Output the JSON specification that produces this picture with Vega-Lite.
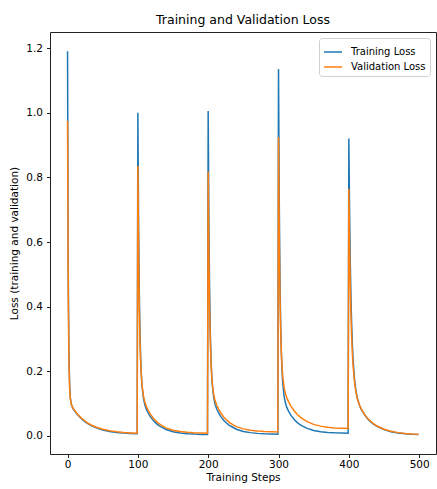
{
  "$schema": "https://vega.github.io/schema/vega-lite/v6.json",
  "autosize": {"type": "none"},
  "padding": {"left": 50, "top": 32, "right": 1, "bottom": 35},
  "width": 386,
  "height": 422,
  "background": "white",
  "title": {"text": "Training and Validation Loss", "font": "DejaVu Sans", "fontSize": 12.5, "fontWeight": "normal", "color": "#000", "offset": 6},
  "config": {
    "view": {"stroke": "#222", "strokeWidth": 1},
    "axis": {"labelFont": "DejaVu Sans", "titleFont": "DejaVu Sans", "labelFontSize": 10.5, "titleFontSize": 10.5, "titleFontWeight": "normal", "labelColor": "#000", "titleColor": "#000", "tickColor": "#222", "tickSize": 3.5, "grid": false, "domain": false}
  },
  "data": {"values": [
    {"step":0,"Training Loss":1.19,"Validation Loss":0.975},
    {"step":1,"Training Loss":0.506,"Validation Loss":0.428},
    {"step":2,"Training Loss":0.252,"Validation Loss":0.224},
    {"step":3,"Training Loss":0.156,"Validation Loss":0.146},
    {"step":4,"Training Loss":0.118,"Validation Loss":0.115},
    {"step":5,"Training Loss":0.102,"Validation Loss":0.102},
    {"step":6,"Training Loss":0.0934,"Validation Loss":0.0939},
    {"step":8,"Training Loss":0.0842,"Validation Loss":0.0852},
    {"step":10,"Training Loss":0.0775,"Validation Loss":0.0795},
    {"step":12,"Training Loss":0.0717,"Validation Loss":0.0737},
    {"step":15,"Training Loss":0.0639,"Validation Loss":0.0659},
    {"step":18,"Training Loss":0.057,"Validation Loss":0.059},
    {"step":22,"Training Loss":0.049,"Validation Loss":0.051},
    {"step":26,"Training Loss":0.0422,"Validation Loss":0.0442},
    {"step":30,"Training Loss":0.0365,"Validation Loss":0.0385},
    {"step":35,"Training Loss":0.0306,"Validation Loss":0.0326},
    {"step":40,"Training Loss":0.0258,"Validation Loss":0.0278},
    {"step":50,"Training Loss":0.0187,"Validation Loss":0.0207},
    {"step":60,"Training Loss":0.014,"Validation Loss":0.016},
    {"step":70,"Training Loss":0.011,"Validation Loss":0.013},
    {"step":80,"Training Loss":0.0089,"Validation Loss":0.0109},
    {"step":90,"Training Loss":0.0076,"Validation Loss":0.0096},
    {"step":99,"Training Loss":0.0068,"Validation Loss":0.0088},
    {"step":100,"Training Loss":1.0,"Validation Loss":0.835},
    {"step":101,"Training Loss":0.659,"Validation Loss":0.564},
    {"step":102,"Training Loss":0.449,"Validation Loss":0.397},
    {"step":103,"Training Loss":0.32,"Validation Loss":0.292},
    {"step":104,"Training Loss":0.239,"Validation Loss":0.226},
    {"step":105,"Training Loss":0.187,"Validation Loss":0.184},
    {"step":106,"Training Loss":0.154,"Validation Loss":0.156},
    {"step":108,"Training Loss":0.116,"Validation Loss":0.123},
    {"step":110,"Training Loss":0.096,"Validation Loss":0.104},
    {"step":112,"Training Loss":0.083,"Validation Loss":0.092},
    {"step":115,"Training Loss":0.07,"Validation Loss":0.078},
    {"step":118,"Training Loss":0.059,"Validation Loss":0.067},
    {"step":122,"Training Loss":0.048,"Validation Loss":0.055},
    {"step":126,"Training Loss":0.039,"Validation Loss":0.046},
    {"step":130,"Training Loss":0.032,"Validation Loss":0.038},
    {"step":135,"Training Loss":0.026,"Validation Loss":0.031},
    {"step":140,"Training Loss":0.02,"Validation Loss":0.025},
    {"step":150,"Training Loss":0.013,"Validation Loss":0.018},
    {"step":160,"Training Loss":0.0094,"Validation Loss":0.0137},
    {"step":170,"Training Loss":0.0071,"Validation Loss":0.0113},
    {"step":180,"Training Loss":0.0058,"Validation Loss":0.0099},
    {"step":190,"Training Loss":0.005,"Validation Loss":0.0091},
    {"step":199,"Training Loss":0.0046,"Validation Loss":0.0087},
    {"step":200,"Training Loss":1.005,"Validation Loss":0.818},
    {"step":201,"Training Loss":0.662,"Validation Loss":0.555},
    {"step":202,"Training Loss":0.451,"Validation Loss":0.393},
    {"step":203,"Training Loss":0.321,"Validation Loss":0.292},
    {"step":204,"Training Loss":0.24,"Validation Loss":0.228},
    {"step":205,"Training Loss":0.188,"Validation Loss":0.186},
    {"step":206,"Training Loss":0.155,"Validation Loss":0.159},
    {"step":208,"Training Loss":0.117,"Validation Loss":0.126},
    {"step":210,"Training Loss":0.097,"Validation Loss":0.108},
    {"step":212,"Training Loss":0.084,"Validation Loss":0.096},
    {"step":215,"Training Loss":0.071,"Validation Loss":0.082},
    {"step":218,"Training Loss":0.06,"Validation Loss":0.071},
    {"step":222,"Training Loss":0.049,"Validation Loss":0.059},
    {"step":226,"Training Loss":0.04,"Validation Loss":0.05},
    {"step":230,"Training Loss":0.033,"Validation Loss":0.042},
    {"step":235,"Training Loss":0.027,"Validation Loss":0.035},
    {"step":240,"Training Loss":0.021,"Validation Loss":0.029},
    {"step":250,"Training Loss":0.014,"Validation Loss":0.022},
    {"step":260,"Training Loss":0.0104,"Validation Loss":0.0177},
    {"step":270,"Training Loss":0.0081,"Validation Loss":0.0153},
    {"step":280,"Training Loss":0.0068,"Validation Loss":0.0139},
    {"step":290,"Training Loss":0.006,"Validation Loss":0.0131},
    {"step":299,"Training Loss":0.0056,"Validation Loss":0.0127},
    {"step":300,"Training Loss":1.135,"Validation Loss":0.925},
    {"step":301,"Training Loss":0.742,"Validation Loss":0.628},
    {"step":302,"Training Loss":0.502,"Validation Loss":0.446},
    {"step":303,"Training Loss":0.353,"Validation Loss":0.332},
    {"step":304,"Training Loss":0.26,"Validation Loss":0.26},
    {"step":305,"Training Loss":0.202,"Validation Loss":0.215},
    {"step":306,"Training Loss":0.164,"Validation Loss":0.184},
    {"step":308,"Training Loss":0.122,"Validation Loss":0.149},
    {"step":310,"Training Loss":0.101,"Validation Loss":0.13},
    {"step":312,"Training Loss":0.087,"Validation Loss":0.117},
    {"step":315,"Training Loss":0.074,"Validation Loss":0.103},
    {"step":318,"Training Loss":0.063,"Validation Loss":0.091},
    {"step":322,"Training Loss":0.052,"Validation Loss":0.079},
    {"step":326,"Training Loss":0.043,"Validation Loss":0.068},
    {"step":330,"Training Loss":0.036,"Validation Loss":0.06},
    {"step":335,"Training Loss":0.0295,"Validation Loss":0.052},
    {"step":340,"Training Loss":0.0243,"Validation Loss":0.045},
    {"step":350,"Training Loss":0.0173,"Validation Loss":0.036},
    {"step":360,"Training Loss":0.0134,"Validation Loss":0.0305},
    {"step":370,"Training Loss":0.0111,"Validation Loss":0.0271},
    {"step":380,"Training Loss":0.0098,"Validation Loss":0.0251},
    {"step":390,"Training Loss":0.009,"Validation Loss":0.0239},
    {"step":399,"Training Loss":0.0086,"Validation Loss":0.0232},
    {"step":400,"Training Loss":0.92,"Validation Loss":0.765},
    {"step":401,"Training Loss":0.703,"Validation Loss":0.592},
    {"step":402,"Training Loss":0.545,"Validation Loss":0.466},
    {"step":403,"Training Loss":0.43,"Validation Loss":0.374},
    {"step":404,"Training Loss":0.346,"Validation Loss":0.306},
    {"step":405,"Training Loss":0.284,"Validation Loss":0.256},
    {"step":406,"Training Loss":0.238,"Validation Loss":0.218},
    {"step":408,"Training Loss":0.177,"Validation Loss":0.167},
    {"step":410,"Training Loss":0.141,"Validation Loss":0.137},
    {"step":412,"Training Loss":0.118,"Validation Loss":0.116},
    {"step":415,"Training Loss":0.096,"Validation Loss":0.096},
    {"step":418,"Training Loss":0.081,"Validation Loss":0.082},
    {"step":422,"Training Loss":0.067,"Validation Loss":0.068},
    {"step":426,"Training Loss":0.055,"Validation Loss":0.056},
    {"step":430,"Training Loss":0.046,"Validation Loss":0.047},
    {"step":435,"Training Loss":0.037,"Validation Loss":0.038},
    {"step":440,"Training Loss":0.03,"Validation Loss":0.031},
    {"step":450,"Training Loss":0.0197,"Validation Loss":0.0207},
    {"step":460,"Training Loss":0.0134,"Validation Loss":0.0144},
    {"step":470,"Training Loss":0.0094,"Validation Loss":0.0104},
    {"step":480,"Training Loss":0.007,"Validation Loss":0.008},
    {"step":490,"Training Loss":0.0055,"Validation Loss":0.0065},
    {"step":499,"Training Loss":0.0046,"Validation Loss":0.0056}
  ]},
  "transform": [{"fold": ["Training Loss", "Validation Loss"], "as": ["series", "loss"]}],
  "mark": {"type": "line", "strokeWidth": 1.5, "clip": true},
  "encoding": {
    "x": {"field": "step", "type": "quantitative", "title": "Training Steps",
      "scale": {"domain": [-24.95, 523.95], "nice": false, "zero": false},
      "axis": {"values": [0, 100, 200, 300, 400, 500], "labelPadding": 2, "titlePadding": 2}},
    "y": {"field": "loss", "type": "quantitative", "title": "Loss (training and validation)",
      "scale": {"domain": [-0.0557, 1.2496], "nice": false, "zero": false},
      "axis": {"values": [0, 0.2, 0.4, 0.6, 0.8, 1.0, 1.2], "format": ".1f", "labelPadding": 4, "titlePadding": 6}},
    "color": {"field": "series", "type": "nominal",
      "scale": {"domain": ["Training Loss", "Validation Loss"], "range": ["#1f77b4", "#ff7f0e"]},
      "legend": {"title": null, "orient": "top-right", "offset": 6, "symbolType": "stroke", "symbolSize": 324, "symbolStrokeWidth": 1.5,
        "labelFont": "DejaVu Sans", "labelFontSize": 10, "labelColor": "#000", "labelOffset": 8, "rowPadding": 0, "padding": 4,
        "strokeColor": "#d0d0d0", "fillColor": "rgba(255,255,255,0.8)", "cornerRadius": 3}}
  }
}
